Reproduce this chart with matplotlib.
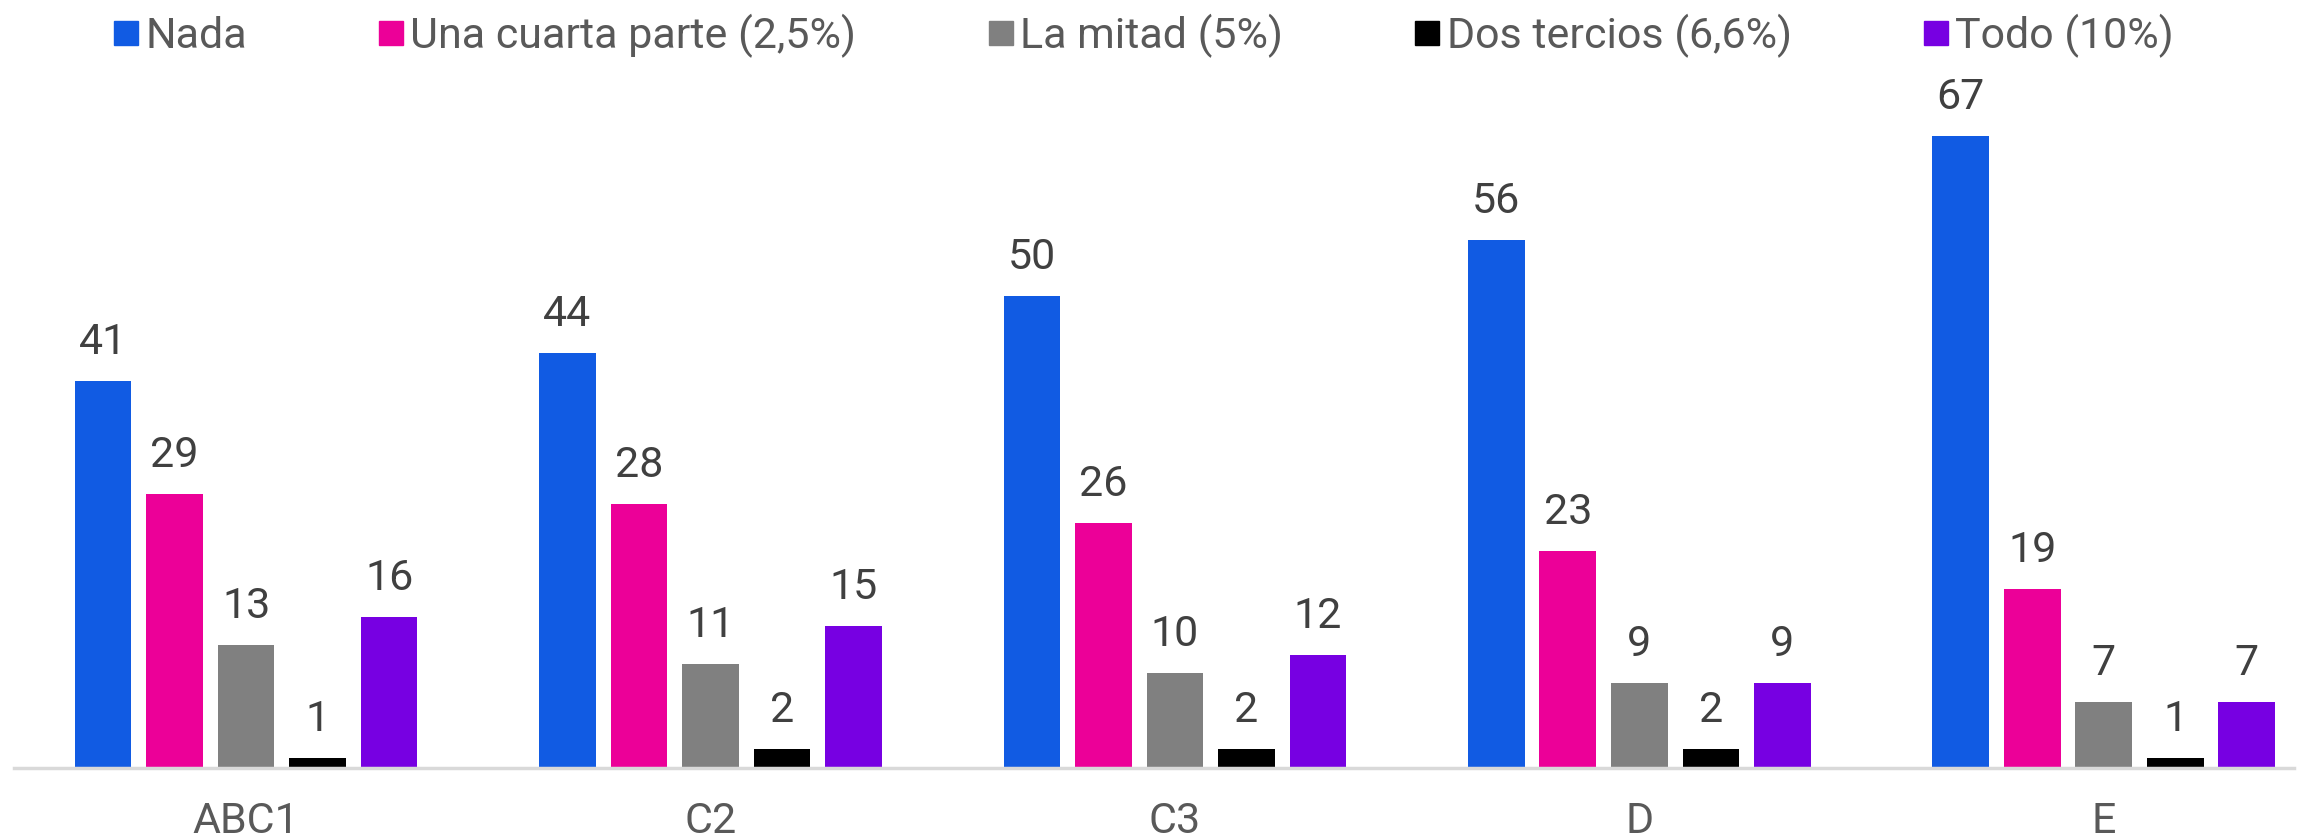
import matplotlib
matplotlib.use("Agg")
from matplotlib import pyplot as plt
from matplotlib.lines import Line2D
import numpy as np

plt.rcParams['font.family'] = ['Roboto', 'DejaVu Sans']

categories = ['ABC1', 'C2', 'C3', 'D', 'E']
series = ['Nada', 'Una cuarta parte (2,5%)', 'La mitad (5%)', 'Dos tercios (6,6%)', 'Todo (10%)']
nada = [41, 44, 50, 56, 67]
cuarta = [29, 28, 26, 23, 19]
mitad = [13, 11, 10, 9, 7]
tercios = [1, 2, 2, 2, 1]
todo = [16, 15, 12, 9, 7]
colors = ['#115be3', '#ec0098', '#808080', '#000000', '#7700e2']

values = [nada, cuarta, mitad, tercios, todo]

fig = plt.figure(figsize=(23.15, 8.39), dpi=100)
ax = fig.add_axes([0.006, 0.085, 0.985, 0.82])

x = np.arange(len(categories))
width = 0.122
step = 0.154
for i, (vals, c) in enumerate(zip(values, colors)):
    bars = ax.bar(x + (i - 2) * step, vals, width, color=c)
    ax.bar_label(bars, padding=13, fontsize=31, color='#404040')

ax.set_xlim(-0.50, 4.41)
ax.set_ylim(0, 73)
ax.set_xticks(x)
ax.set_xticklabels(categories, fontsize=31, color='#595959')
ax.tick_params(axis='x', length=0, pad=24)
ax.set_yticks([])
for s in ['top', 'right', 'left']:
    ax.spines[s].set_visible(False)
ax.spines['bottom'].set_color('#d9d9d9')
ax.spines['bottom'].set_linewidth(2.5)

handles = [Line2D([], [], marker='s', linestyle='none', markersize=17, color=c) for c in colors]
fig.legend(handles, series, loc='upper center', bbox_to_anchor=(0.493, 1.03), ncol=5,
           frameon=False, fontsize=31, labelcolor='#595959', handletextpad=0.05,
           columnspacing=2.95, handlelength=0.8)

fig.savefig('out.png', dpi=100)
